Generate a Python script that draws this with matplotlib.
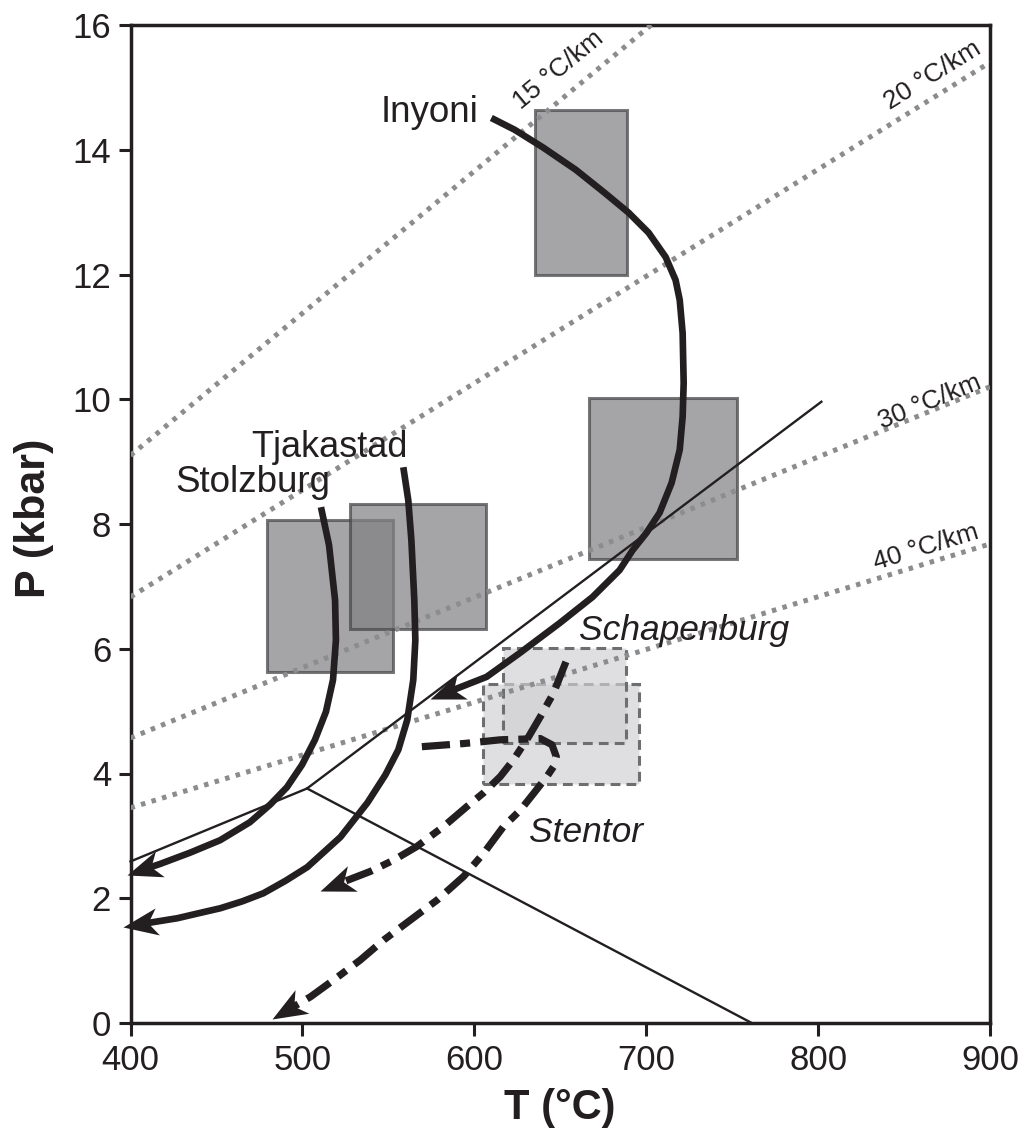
import numpy as np
import matplotlib.pyplot as plt
from matplotlib.patches import Rectangle
from matplotlib.markers import MarkerStyle
from matplotlib.path import Path
from matplotlib.transforms import Affine2D

plt.rcParams['font.family'] = ['Liberation Sans', 'DejaVu Sans']

INK = '#231f20'

# P-T paths, T in degC and P in kbar; the last point is the arrow tip
inyoni_T = [609.9, 623.5, 639.8, 659.0, 675.8, 689.8, 701.4, 711.3, 717.1, 719.5, 721.2, 721.8,
            721.2, 719.5, 714.8, 707.8, 700.2, 692.1, 684.5, 668.8, 649.6, 626.4, 607.2, 574.0]
inyoni_P = [14.51, 14.32, 14.04, 13.68, 13.31, 12.99, 12.67, 12.28, 11.91, 11.59, 11.06, 10.26,
            9.72, 9.19, 8.66, 8.18, 7.86, 7.58, 7.26, 6.83, 6.41, 5.93, 5.55, 5.19]

stolzburg_T = [510.8, 515.5, 519.0, 519.5, 517.8, 513.7, 507.3, 499.8, 491.0, 481.2, 469.5,
               452.1, 434.6, 417.2, 398.0]
stolzburg_P = [8.27, 7.66, 6.78, 6.14, 5.50, 4.99, 4.54, 4.14, 3.78, 3.50, 3.22,
               2.93, 2.73, 2.55, 2.37]

tjakastad_T = [558.7, 561.6, 563.4, 565.1, 565.7, 564.5, 561.0, 555.8, 548.3, 537.8, 522.1, 502.9,
               490.2, 477.3, 465.0, 452.3, 439.7, 427.3, 395.9]
tjakastad_P = [8.91, 8.38, 7.74, 6.78, 6.14, 5.50, 4.86, 4.38, 3.98, 3.53, 2.98, 2.50,
               2.28, 2.08, 1.95, 1.84, 1.76, 1.68, 1.54]

schapenburg_T = [653.3, 646.1, 638.4, 631.6, 622.8, 615.1, 605.4, 595.7, 582.1, 566.6, 553.0, 539.5, 510.4]
schapenburg_P = [5.79, 5.29, 4.91, 4.59, 4.22, 3.95, 3.69, 3.47, 3.15, 2.83, 2.61, 2.43, 2.12]

stentor_T = [569.5, 593.7, 615.1, 638.4, 645.2, 647.7, 646.1, 642.2, 634.5, 626.7, 617.0, 605.4,
             593.8, 578.3, 562.8, 547.3, 533.7, 518.2, 504.7, 482.4]
stentor_P = [4.43, 4.48, 4.54, 4.56, 4.46, 4.27, 4.11, 3.95, 3.68, 3.41, 3.15, 2.72,
             2.35, 1.97, 1.65, 1.33, 1.01, 0.69, 0.42, 0.06]

# peak P-T estimates: (Tmin, Tmax, Pmin, Pmax)
boxes_dark = [(479.2, 552.5, 5.63, 8.06),    # Stolzburg
              (527.7, 606.8, 6.31, 8.32),    # Tjakastad
              (635.3, 688.7, 12.0, 14.64),   # Inyoni
              (666.7, 752.6, 7.44, 10.02)]   # Inyoni
boxes_light = [(604.9, 696.0, 3.83, 5.43),   # Stentor
               (616.5, 688.3, 4.49, 6.02)]   # Schapenburg

# Al2SiO5 triple point reactions
ky_sil_T = [400.0, 502.7, 801.9]
ky_sil_P = [2.59, 3.76, 9.96]
and_sil_T = [502.7, 761.4]
and_sil_P = [3.76, 0.0]

# geotherms, end points read at T = 400 and 900 degC
geo_names = ['15 °C/km', '20 °C/km', '30 °C/km', '40 °C/km']
geo_T = [400, 900]
geo_P = [[9.10, 20.49], [6.83, 15.40], [4.57, 10.20], [3.45, 7.68]]
geo_label_T = [648.7, 866.4, 865.0, 862.9]
geo_label_P = [15.28, 15.20, 9.96, 7.63]

fig = plt.figure(figsize=(10.27, 11.42), dpi=100)
ax = fig.add_axes([130.5 / 1027, 1 - 1023 / 1142, 859.5 / 1027, 998 / 1142])
ax.set_xlim(400, 900)
ax.set_ylim(0, 16)

for (t0, t1, p0, p1) in boxes_dark:
    ax.add_patch(Rectangle((t0, p0), t1 - t0, p1 - p0, facecolor=(0.51, 0.51, 0.52, 0.72),
                           edgecolor=(0.28, 0.28, 0.29, 0.72), lw=2.2, zorder=2))
for (t0, t1, p0, p1) in boxes_light:
    ax.add_patch(Rectangle((t0, p0), t1 - t0, p1 - p0, facecolor=(0.82, 0.82, 0.83, 0.68),
                           edgecolor='#6d6e70', lw=2.2, ls=(0, (3.2, 2.0)), zorder=2))

for name, gp, lt, lp in zip(geo_names, geo_P, geo_label_T, geo_label_P):
    ax.plot(geo_T, gp, color='#8b8c8e', lw=3.6, ls=(0, (0.9, 1.3)), zorder=3)
    a = ax.transData.transform((geo_T[0], gp[0]))
    b = ax.transData.transform((geo_T[1], gp[1]))
    ang = np.degrees(np.arctan2(b[1] - a[1], b[0] - a[0]))
    ax.text(lt, lp, name, fontsize=19, rotation=ang, rotation_mode='anchor',
            ha='center', va='center', color=INK, zorder=6)

ax.plot(ky_sil_T, ky_sil_P, color=INK, lw=1.7, zorder=4, clip_on=False)
ax.plot(and_sil_T, and_sil_P, color=INK, lw=1.7, zorder=4, clip_on=False)

head = Path([(0, 0), (-33, 13), (-24, 0), (-33, -13), (0, 0)],
            [Path.MOVETO, Path.LINETO, Path.LINETO, Path.LINETO, Path.CLOSEPOLY])


def pt_path(T, P, ls, lw):
    T = np.asarray(T, float)
    P = np.asarray(P, float)
    d = ax.transData.transform(np.column_stack([T, P]))
    tip, prev = d[-1], d[-2]
    v = tip - prev
    v = v / np.hypot(*v)
    # stop the shaft inside the head so the tip stays sharp
    end = ax.transData.inverted().transform(tip - 14 * v)
    ax.plot(np.r_[T[:-1], end[0]], np.r_[P[:-1], end[1]], color=INK, lw=lw, ls=ls,
            solid_capstyle='butt', solid_joinstyle='round', zorder=5, clip_on=False)
    ang = np.degrees(np.arctan2(v[1], v[0]))
    m = MarkerStyle(head, transform=Affine2D().rotate_deg(ang))
    ax.plot(T[-1], P[-1], marker=m, ms=50, color=INK, mew=0, zorder=5, clip_on=False)


pt_path(inyoni_T, inyoni_P, '-', 4.8)
pt_path(stolzburg_T, stolzburg_P, '-', 4.8)
pt_path(tjakastad_T, tjakastad_P, '-', 4.8)
pt_path(schapenburg_T, schapenburg_P, (0, (3.9, 1.4, 1.4, 1.4)), 5.2)
pt_path(stentor_T, stentor_P, (0, (3.9, 1.4, 1.4, 1.4)), 5.2)

ax.text(602.3, 14.45, 'Inyoni', fontsize=26.5, ha='right', va='baseline', color=INK, zorder=6)
ax.text(561.5, 9.07, 'Tjakastad', fontsize=26, ha='right', va='baseline', color=INK, zorder=6)
ax.text(516.0, 8.51, 'Stolzburg', fontsize=26.5, ha='right', va='baseline', color=INK, zorder=6)
ax.text(661.0, 6.14, 'Schapenburg', fontsize=25.5, style='italic', ha='left', va='baseline',
        color=INK, zorder=6)
ax.text(632.0, 2.90, 'Stentor', fontsize=25.5, style='italic', ha='left', va='baseline',
        color=INK, zorder=6)

ax.set_xticks(np.arange(400, 901, 100))
ax.set_yticks(np.arange(0, 17, 2))
ax.tick_params(direction='out', length=9, width=2.2, labelsize=25, color=INK, labelcolor=INK,
               top=False, right=False)
ax.tick_params(axis='x', pad=6)
ax.tick_params(axis='y', pad=5)
for s in ax.spines.values():
    s.set_linewidth(2.5)
    s.set_color(INK)

ax.set_xlabel('T (°C)', fontsize=30, fontweight='bold', color=INK, labelpad=8)
ax.set_ylabel('P (kbar)', fontsize=31, fontweight='bold', color=INK, labelpad=12)
ax.yaxis.set_label_coords(-0.089, 0.506)

fig.savefig('out.png', dpi=100)
